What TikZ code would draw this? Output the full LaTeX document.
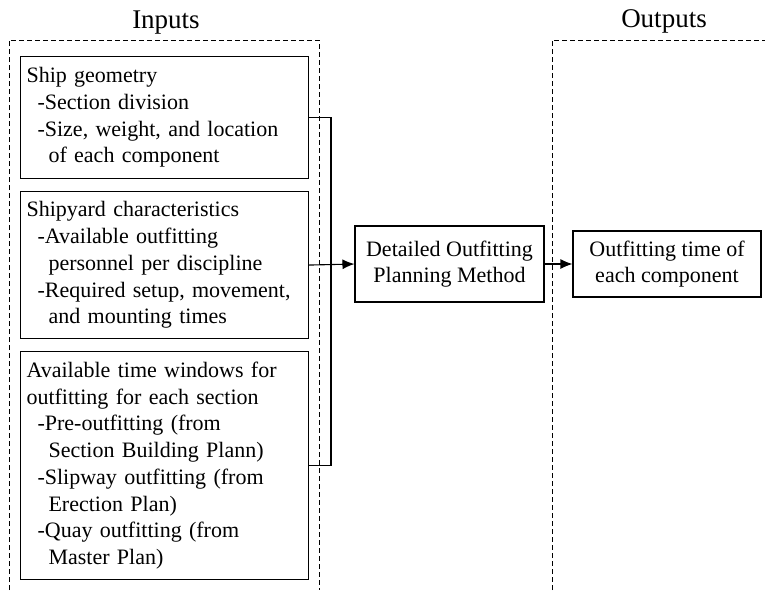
\documentclass[tikz,border=0pt]{standalone}
\usepackage{fontspec}
\setmainfont{Liberation Serif}
\usetikzlibrary{arrows.meta}
\begin{document}
\begin{tikzpicture}[x=1pt,y=-1pt,
  boxtext/.style={font=\fontsize{22}{26.7}\selectfont},
  inbox/.style={draw, line width=1.1pt, boxtext, anchor=north west, align=left,
    inner sep=0pt, text width=276pt, minimum width=288pt},
  procbox/.style={draw, line width=1.1pt, boxtext, align=center, inner sep=0pt},
  group/.style={dashed, line width=0.8pt, dash pattern=on 5pt off 3pt},
  title/.style={font=\fontsize{27}{30}\selectfont, anchor=base},
  link/.style={line width=1.1pt},
  flow/.style={line width=1.1pt, -{Latex[length=12pt,width=10pt]}}]
\useasboundingbox (0,0) rectangle (765,590);

% group frames (open at the bottom)
\draw[group] (9,590) -- (9,40) -- (319,40) -- (319,590);
\draw[group] (552,590) -- (552,40) -- (765,40);
\node[title] (tin) at (166,28) {Inputs};
\node[title] (tout) at (664,27) {Outputs};

% input boxes
\node[inbox, minimum height=122pt] (geo) at (20,56) {Ship geometry\\
\hspace*{11pt}-Section division\\
\hspace*{11pt}-Size, weight, and location\\
\hspace*{22pt}of each component};
\node[inbox, minimum height=147pt] (yard) at (20,191) {Shipyard characteristics\\
\hspace*{11pt}-Available outfitting\\
\hspace*{22pt}personnel per discipline\\
\hspace*{11pt}-Required setup, movement,\\
\hspace*{22pt}and mounting times};
\node[inbox, minimum height=228pt] (win) at (20,351) {Available time windows for\\
outfitting for each section\\
\hspace*{11pt}-Pre-outfitting (from\\
\hspace*{22pt}Section Building Plann)\\
\hspace*{11pt}-Slipway outfitting (from\\
\hspace*{22pt}Erection Plan)\\
\hspace*{11pt}-Quay outfitting (from\\
\hspace*{22pt}Master Plan)};

% method and result
\node[procbox, minimum width=189pt, minimum height=76pt] (method) at (449.5,264)
  {Detailed Outfitting\\Planning Method};
\node[procbox, minimum width=188pt, minimum height=66pt] (result) at (667,264)
  {Outfitting time of\\each component};

% connectors
\coordinate (bus) at (331,264);
\draw[link] (geo.east) -| (bus) |- (win.east);
\draw[flow] (yard.east) -- (method.west);
\draw[flow] (method.east) -- (result.west);
\end{tikzpicture}
\end{document}
